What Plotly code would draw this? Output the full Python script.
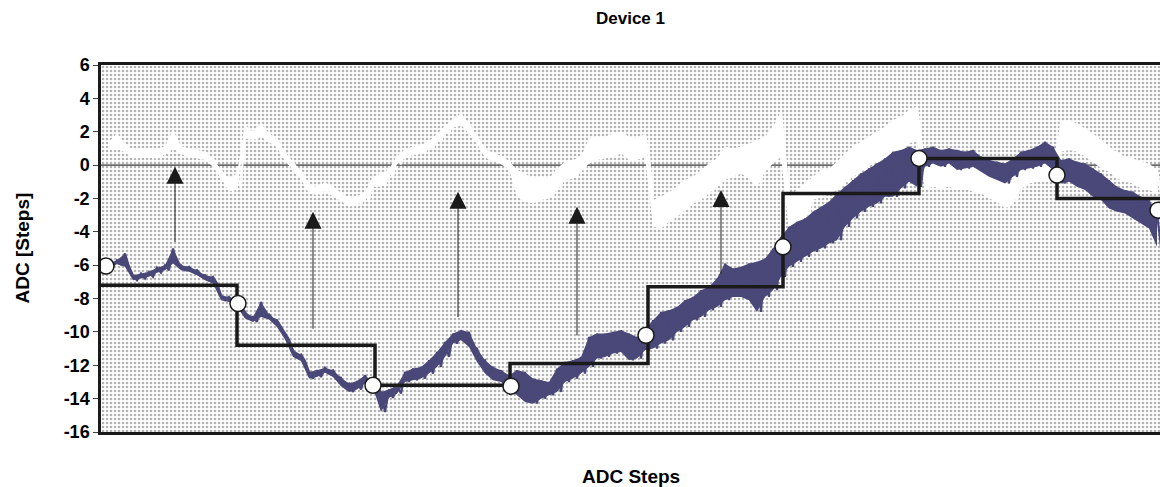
import plotly.graph_objects as go

# ---------------------------------------------------------------------------
# Data (ADC output in steps).  Noisy traces are stored as upper / lower
# readings taken every SPACING codes; each is drawn as a band between the
# two readings with a line alternating between them on top.
# ---------------------------------------------------------------------------
SPACING = 8
X_MAX = 1059

measured_hi = [
    -5.95, -5.9, -5.7, -5.3, -6.6, -6.5, -6.4, -6.15, -6.0, -5.0,
    -6.0, -6.1, -6.3, -6.6, -6.7, -7.8, -7.9, -8.2, -8.8, -9.1,
    -8.2, -8.95, -9.3, -10.05, -11.1, -11.35, -12.4, -12.3, -12.15, -12.3,
    -12.75, -13.1, -12.95, -12.6, -13.05, -13.6, -13.45, -13.2, -12.4, -12.2,
    -12.1, -11.7, -11.2, -10.6, -10.1, -9.9, -10.0, -11.0, -11.7, -12.1,
    -12.3, -12.6, -12.3, -12.4, -12.8, -12.9, -13.0, -12.2, -11.8, -11.7,
    -11.5, -10.3, -10.1, -10.1, -10.0, -9.9, -10.1, -10.3, -9.9, -9.3,
    -8.8, -8.7, -8.5, -8.1, -7.9, -7.5, -7.3, -6.8, -5.9, -6.2,
    -6.1, -5.9, -5.8, -5.6, -5.0, -4.3, -3.7, -3.4, -3.2, -2.8,
    -2.5, -2.2, -1.7, -1.3, -0.9, -0.5, -0.2, 0.1, 0.4, 0.8,
    0.9, 1.1, 0.9, 1.0, 1.1, 0.9, 1.0, 0.9, 0.8, 0.9,
    0.5, 0.3, 0.2, 0.1, 0.4, 0.8, 0.9, 1.1, 1.4, 1.1,
    0.3, 0.4, 0.2, 0.1, -0.2, -0.5, -0.9, -1.3, -1.5, -1.6,
    -1.9, -2.1, -2.9,
]
measured_lo = [
    -6.15, -6.1, -5.95, -6.1, -6.9, -6.8, -6.7, -6.45, -6.3, -5.9,
    -6.3, -6.4, -6.6, -6.9, -7.1, -8.1, -8.2, -8.5, -9.2, -9.4,
    -9.1, -9.25, -9.7, -10.45, -11.5, -11.75, -12.8, -12.7, -12.45, -12.7,
    -13.25, -13.6, -13.45, -13.1, -13.35, -14.8, -13.95, -13.7, -13.0, -12.9,
    -12.8, -12.5, -12.1, -11.5, -10.7, -10.5, -10.9, -11.8, -12.5, -12.9,
    -13.0, -13.4, -13.8, -14.2, -14.3, -14.0, -13.8, -13.6, -13.0, -12.8,
    -12.5, -12.1, -11.6, -11.5, -11.3, -11.2, -11.7, -11.6, -11.1, -11.0,
    -10.7, -10.5, -10.0, -9.7, -9.3, -9.1, -8.7, -8.5, -8.1, -7.9,
    -7.9, -8.1, -8.8, -7.9, -7.5, -6.7, -6.1, -5.8, -5.5, -5.2,
    -5.0, -4.7, -4.5, -3.7, -3.2, -2.8, -2.5, -2.3, -1.9, -1.9,
    -1.4, -1.0, -1.3, -0.1, 0.1, -0.1, 0.1, -0.3, -0.2, -0.1,
    -0.4, -0.7, -0.9, -1.1, -0.7, -0.3, -0.2, -0.1, 0.1, -0.3,
    -1.1, -1.0, -1.3, -1.5, -1.9, -2.1, -2.6, -2.8, -2.9, -3.2,
    -3.5, -3.8, -4.9,
]

error_hi = [
    None, 1.4, 1.9, 1.25, 0.9, 1.0, 0.95, 0.9, 1.15, 2.1,
    1.15, 1.0, 0.9, 0.8, 0.4, -0.3, -0.8, -0.5, 2.4, 2.0,
    2.5, 1.9, 1.55, 0.75, 0.2, -0.35, -1.2, -1.3, -1.05, -1.3,
    -1.65, -2.0, -1.85, -1.65, -0.7, -0.5, -0.25, 0.55, 0.95, 1.1,
    1.2, 1.45, 1.85, 2.35, 2.75, 3.1, 2.5, 1.75, 0.95, 0.75,
    0.55, 0.25, -0.3, -0.5, -0.8, -0.7, -0.8, -0.2, 0.2, 0.3,
    0.5, 1.6, 1.7, 1.7, 1.9, 2.0, 1.7, 1.6, 1.9, -2.1,
    -1.9, -1.6, -1.3, -0.9, -0.7, -0.3, 0.1, 0.4, 1.1, 1.0,
    1.1, 1.3, 1.5, 1.7, 2.3, 3.2, -1.9, -1.5, -1.1, -0.7,
    -0.3, -0.2, 0.2, 0.7, 1.1, 1.4, 1.7, 2.0, 2.3, 2.7,
    2.9, 3.3, 3.5, -0.1, 0.1, -0.1, 0.1, -0.2, -0.1, -0.2,
    -0.3, -0.5, -0.8, -1.1, -0.9, -0.3, -0.1, 0.1, 0.2, 0.1,
    2.6, 2.7, 2.5, 2.2, 1.9, 1.5, 1.1, 0.8, 0.5, 0.4,
    0.2, 0.1, -0.3,
]
error_lo = [
    None, 0.9, 1.0, 0.75, 0.4, 0.5, 0.45, 0.4, 0.65, 1.0,
    0.65, 0.5, 0.4, 0.3, -0.1, -0.8, -1.6, -1.4, 1.6, 1.5,
    1.7, 1.4, 1.05, 0.25, -0.3, -0.85, -1.7, -1.8, -1.55, -1.9,
    -2.15, -2.5, -2.35, -2.15, -1.3, -1.3, -0.75, 0.05, 0.45, 0.6,
    0.7, 0.95, 1.35, 1.85, 2.25, 2.4, 1.9, 1.25, 0.45, 0.25,
    0.05, -0.25, -1.9, -2.2, -2.3, -2.1, -2.0, -1.5, -0.9, -0.8,
    -0.4, 0.1, 0.3, 0.4, 0.5, 0.7, 0.3, 0.3, 0.5, -3.7,
    -3.8, -3.4, -3.1, -2.7, -2.3, -2.1, -1.7, -1.3, -0.9, -0.7,
    -0.5, -0.8, -1.3, -0.4, 0.1, 0.5, -4.0, -3.8, -3.3, -2.1,
    -1.9, -1.7, -1.5, -1.1, -0.7, -0.4, -0.1, 0.2, 0.4, 0.7,
    0.9, 1.3, 1.5, -1.5, -1.3, -1.4, -1.3, -1.5, -1.4, -1.6,
    -1.7, -2.0, -2.2, -2.6, -2.3, -1.4, -1.1, -1.0, -0.9, -1.0,
    0.8, 0.9, 0.8, 0.5, 0.2, -0.2, -0.4, -0.8, -1.0, -1.1,
    -1.4, -1.5, -1.7,
]

# Quantised output (staircase)
step_edges = [0, 136, 274, 409, 547, 682, 818, 956, X_MAX]
step_levels = [-7.2, -10.8, -13.2, -11.9, -7.3, -1.7, 0.4, -2.0]

# Sampling instants marked on the measured trace
sample_codes = [5, 137, 272, 410, 545, 682, 818, 956, 1057]
sample_values = [-6.05, -8.3, -13.2, -13.25, -10.2, -4.9, 0.4, -0.6, -2.7]

# Arrows (code, start level, tip level)
arrow_codes = [74, 212, 357, 476, 620]
arrow_start = [-4.7, -9.9, -9.2, -10.3, -6.6]
arrow_tip = [-0.1, -2.8, -1.6, -2.5, -1.5]

y_ticks = [6, 4, 2, 0, -2, -4, -6, -8, -10, -12, -14, -16]
y_tick_text = ["6", "4", "2", "0", "-2", "-4", "-6", "-8", "-10", "-12", "-14", "-16"]

TITLE = "Device 1"
X_TITLE = "ADC Steps"
Y_TITLE = "ADC [Steps]"

FONT = "Arial, Liberation Sans, sans-serif"
NAVY = "#4a4878"
INK = "#1a1a1a"


def zigzag(hi, lo):
    """Alternate upper and lower readings along the code axis."""
    xs, ys = [], []
    for k, (h, l) in enumerate(zip(hi, lo)):
        xs += [k * SPACING, k * SPACING + SPACING / 2]
        ys += [h, l]
    return xs, ys


def envelope(hi, lo):
    """Closed outline of the band between the upper and lower readings."""
    pts = [(k * SPACING, h, l) for k, (h, l) in enumerate(zip(hi, lo))
           if h is not None]
    xs = [p[0] for p in pts] + [p[0] for p in reversed(pts)]
    ys = [p[1] for p in pts] + [p[2] for p in reversed(pts)]
    return xs, ys


def add_noisy(fig, hi, lo, color, width):
    bx, by = envelope(hi, lo)
    fig.add_trace(go.Scatter(
        x=bx, y=by, mode="lines", fill="toself", fillcolor=color,
        line=dict(width=0), hoverinfo="skip", showlegend=False,
    ))
    zx, zy = zigzag(hi, lo)
    fig.add_trace(go.Scatter(
        x=zx, y=zy, mode="lines", line=dict(color=color, width=width),
        showlegend=False,
    ))


fig = go.Figure()

# dotted plot-area background
y_lo, y_hi = y_ticks[-1], y_ticks[0]
fig.add_trace(go.Scatter(
    x=[0, X_MAX, X_MAX, 0, 0], y=[y_lo, y_lo, y_hi, y_hi, y_lo],
    mode="lines", fill="toself", line=dict(width=0),
    fillcolor="white",
    fillpattern=dict(shape=".", size=4, solidity=0.33,
                     fgcolor="#686868", bgcolor="white"),
    hoverinfo="skip", showlegend=False,
))

# zero reference line
fig.add_trace(go.Scatter(
    x=[0, X_MAX], y=[0, 0], mode="lines",
    line=dict(color="black", width=1), hoverinfo="skip", showlegend=False,
))

# error trace (white) and measured trace (navy)
add_noisy(fig, error_hi, error_lo, "white", 2.2)
add_noisy(fig, measured_hi, measured_lo, NAVY, 2.2)

# staircase
fig.add_trace(go.Scatter(
    x=step_edges, y=step_levels + [step_levels[-1]],
    mode="lines", line=dict(color=INK, width=3.5, shape="hv"),
    showlegend=False,
))

# sampling markers
fig.add_trace(go.Scatter(
    x=sample_codes, y=sample_values, mode="markers",
    marker=dict(size=16, color="white", line=dict(color=INK, width=1.5)),
    showlegend=False,
))

for c, y0, y1 in zip(arrow_codes, arrow_start, arrow_tip):
    fig.add_annotation(
        x=c, y=y1, ax=c, ay=y0, xref="x", yref="y", axref="x", ayref="y",
        text="", showarrow=True, arrowhead=2, arrowsize=3.4, arrowwidth=1,
        arrowcolor=INK, standoff=0,
    )

fig.add_annotation(
    text=X_TITLE, xref="paper", yref="paper", x=0.5, y=-44 / 367,
    xanchor="center", yanchor="middle", showarrow=False,
    font=dict(family=FONT, size=19, color="black", weight="bold"),
)
fig.add_annotation(
    text=Y_TITLE, xref="paper", yref="paper", x=-79 / 1059, y=0.5,
    xanchor="center", yanchor="middle", showarrow=False, textangle=-90,
    font=dict(family=FONT, size=19, color="black", weight="bold"),
)

fig.update_layout(
    width=1160, height=487,
    margin=dict(l=101, r=0, t=65, b=55),
    paper_bgcolor="white", plot_bgcolor="white",
    title=dict(text=TITLE, x=0.5, xref="paper", y=1 - 18 / 487,
               yref="container", xanchor="center", yanchor="middle",
               font=dict(family=FONT, size=17, color="black", weight="bold")),
    xaxis=dict(range=[0, X_MAX], showticklabels=False, ticks="",
               showgrid=False, zeroline=False, showline=True, mirror=True,
               linecolor=INK, linewidth=2.5, fixedrange=True),
    yaxis=dict(range=[y_lo, y_hi], tickvals=y_ticks, ticktext=y_tick_text,
               ticks="outside", ticklen=5, tickcolor="#444", tickwidth=1,
               showgrid=False, zeroline=False, showline=True,
               linecolor=INK, linewidth=2.5,
               tickfont=dict(family=FONT, size=18, color="black", weight="bold")),
    showlegend=False,
)

fig.write_html("out.html")
